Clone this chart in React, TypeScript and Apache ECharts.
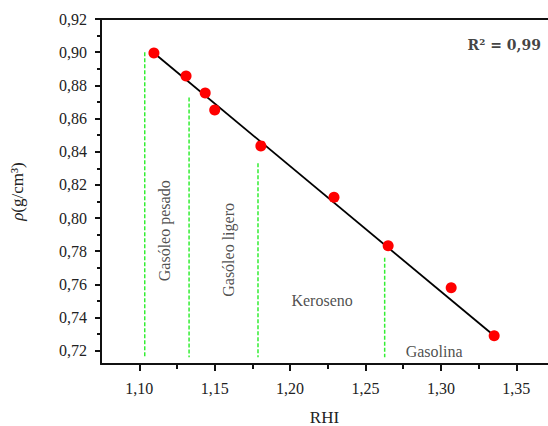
import React, { useEffect, useRef } from "react";
import * as echarts from "echarts";

// Measured data (RHI vs density)
const rhi = [1.1097, 1.131, 1.1437, 1.150, 1.1806, 1.2291, 1.265, 1.3068, 1.3353];
const density = [0.8995, 0.8857, 0.8754, 0.8652, 0.8435, 0.8125, 0.7833, 0.758, 0.729];

// Linear fit endpoints
const fitX = [1.1097, 1.3353];
const fitY = [0.8995, 0.729];

// Zone boundaries (green dashed lines)
const boundaryX = [1.1036, 1.133, 1.1787, 1.2627];
const boundaryTop = [0.9, 0.8726, 0.8331, 0.776];
const boundaryBottom = 0.716;

// Zone labels
const zoneNames = ["Gasóleo pesado", "Gasóleo ligero", "Keroseno", "Gasolina"];
const zoneLabelX = [1.117, 1.1589, 1.2212, 1.2955];
const zoneLabelY = [0.7923, 0.7808, 0.7501, 0.7194];
const zoneLabelRotate = [90, 90, 0, 0];

// R² annotation
const r2Text = "R² = 0,99";
const r2Pos = [1.342, 0.9043];

// Ticks
const xMajor = [1.1, 1.15, 1.2, 1.25, 1.3, 1.35];
const xMinor = [1.125, 1.175, 1.225, 1.275, 1.325];
const yMajor = [0.72, 0.74, 0.76, 0.78, 0.8, 0.82, 0.84, 0.86, 0.88, 0.9, 0.92];
const yMinor = [0.73, 0.75, 0.77, 0.79, 0.81, 0.83, 0.85, 0.87, 0.89, 0.91];

const X_MIN = 1.0746;
const X_MAX = 1.371;
const Y_MIN = 0.712;
const Y_MAX = 0.92;

const FONT = "'Liberation Serif', 'Times New Roman', serif";
const fmt = (v: number) => v.toFixed(2).replace(".", ",");

export default function App() {
  const ref = useRef<HTMLDivElement>(null);

  useEffect(() => {
    if (!ref.current) return;
    const chart = echarts.init(ref.current, undefined, { renderer: "svg" });

    const axisLine = { show: true, lineStyle: { color: "#111", width: 2 } };

    const boundarySeries = boundaryX.map((x, i) => ({
      type: "line",
      xAxisIndex: 0,
      yAxisIndex: 0,
      data: [
        [x, boundaryTop[i]],
        [x, boundaryBottom],
      ],
      symbol: "none",
      silent: true,
      lineStyle: { color: "#33ee33", width: 1.5, type: [4, 2] },
      z: 1,
    }));

    const option: any = {
      animation: false,
      backgroundColor: "#fff",
      grid: {
        left: 101,
        top: 19,
        right: 0,
        bottom: 62,
        containLabel: false,
        outerBoundsMode: "none",
      },
      xAxis: [
        {
          type: "value",
          position: "bottom",
          min: X_MIN,
          max: X_MAX,
          axisLine,
          splitLine: { show: false },
          axisTick: {
            show: true,
            customValues: xMajor,
            length: 7,
            lineStyle: { color: "#111", width: 2 },
          },
          axisLabel: {
            show: true,
            customValues: xMajor,
            formatter: fmt,
            margin: 16,
            fontFamily: FONT,
            fontSize: 16,
            color: "#222",
          },
          name: "RHI",
          nameLocation: "middle",
          nameGap: 45,
          nameTextStyle: { fontFamily: FONT, fontSize: 17, color: "#222" },
        },
        {
          type: "value",
          position: "bottom",
          min: X_MIN,
          max: X_MAX,
          axisLine: { show: false },
          splitLine: { show: false },
          axisTick: {
            show: true,
            customValues: xMinor,
            length: 5,
            lineStyle: { color: "#111", width: 2 },
          },
          axisLabel: { show: false },
        },
        {
          type: "value",
          position: "top",
          min: X_MIN,
          max: X_MAX,
          axisLine,
          splitLine: { show: false },
          axisTick: { show: false },
          axisLabel: { show: false },
        },
      ],
      yAxis: [
        {
          type: "value",
          position: "left",
          min: Y_MIN,
          max: Y_MAX,
          axisLine,
          splitLine: { show: false },
          axisTick: {
            show: true,
            customValues: yMajor,
            length: 6,
            lineStyle: { color: "#111", width: 2 },
          },
          axisLabel: {
            show: true,
            customValues: yMajor,
            formatter: fmt,
            margin: 14,
            fontFamily: FONT,
            fontSize: 16,
            color: "#222",
          },
          name: "{it|ρ}(g/cm³)",
          nameLocation: "middle",
          nameGap: 75,
          nameRotate: 90,
          nameTextStyle: {
            fontFamily: FONT,
            fontSize: 17,
            color: "#222",
            rich: {
              it: { fontFamily: FONT, fontSize: 17, fontStyle: "italic", color: "#222" },
            },
          },
        },
        {
          type: "value",
          position: "left",
          min: Y_MIN,
          max: Y_MAX,
          axisLine: { show: false },
          splitLine: { show: false },
          axisTick: {
            show: true,
            customValues: yMinor,
            length: 4,
            lineStyle: { color: "#111", width: 2 },
          },
          axisLabel: { show: false },
        },
      ],
      series: [
        ...boundarySeries,
        {
          type: "line",
          xAxisIndex: 0,
          yAxisIndex: 0,
          data: fitX.map((x, i) => [x, fitY[i]]),
          symbol: "none",
          silent: true,
          lineStyle: { color: "#000", width: 1.8 },
          z: 2,
        },
        {
          type: "scatter",
          xAxisIndex: 0,
          yAxisIndex: 0,
          data: rhi.map((x, i) => [x, density[i]]),
          symbol: "circle",
          symbolSize: 11,
          itemStyle: { color: "#ff0000", opacity: 1 },
          z: 3,
        },
        {
          type: "scatter",
          xAxisIndex: 0,
          yAxisIndex: 0,
          symbolSize: 0,
          silent: true,
          data: zoneNames.map((name, i) => ({
            name,
            value: [zoneLabelX[i], zoneLabelY[i]],
            label: { rotate: zoneLabelRotate[i] },
          })),
          label: {
            show: true,
            position: "inside",
            formatter: "{b}",
            fontFamily: FONT,
            fontSize: 16,
            color: "#222",
            align: "center",
            verticalAlign: "middle",
          },
          z: 4,
        },
        {
          type: "scatter",
          xAxisIndex: 0,
          yAxisIndex: 0,
          symbolSize: 0,
          silent: true,
          data: [{ name: r2Text, value: r2Pos }],
          label: {
            show: true,
            position: "inside",
            formatter: "{b}",
            fontFamily: "'DejaVu Serif', serif",
            fontWeight: "bold",
            fontSize: 14,
            color: "#111",
            align: "center",
            verticalAlign: "middle",
          },
          z: 4,
        },
      ],
    };

    chart.setOption(option);
    return () => chart.dispose();
  }, []);

  return (
    <div
      ref={ref}
      style={{ position: "fixed", left: 0, top: 0, width: 548, height: 426 }}
    />
  );
}
